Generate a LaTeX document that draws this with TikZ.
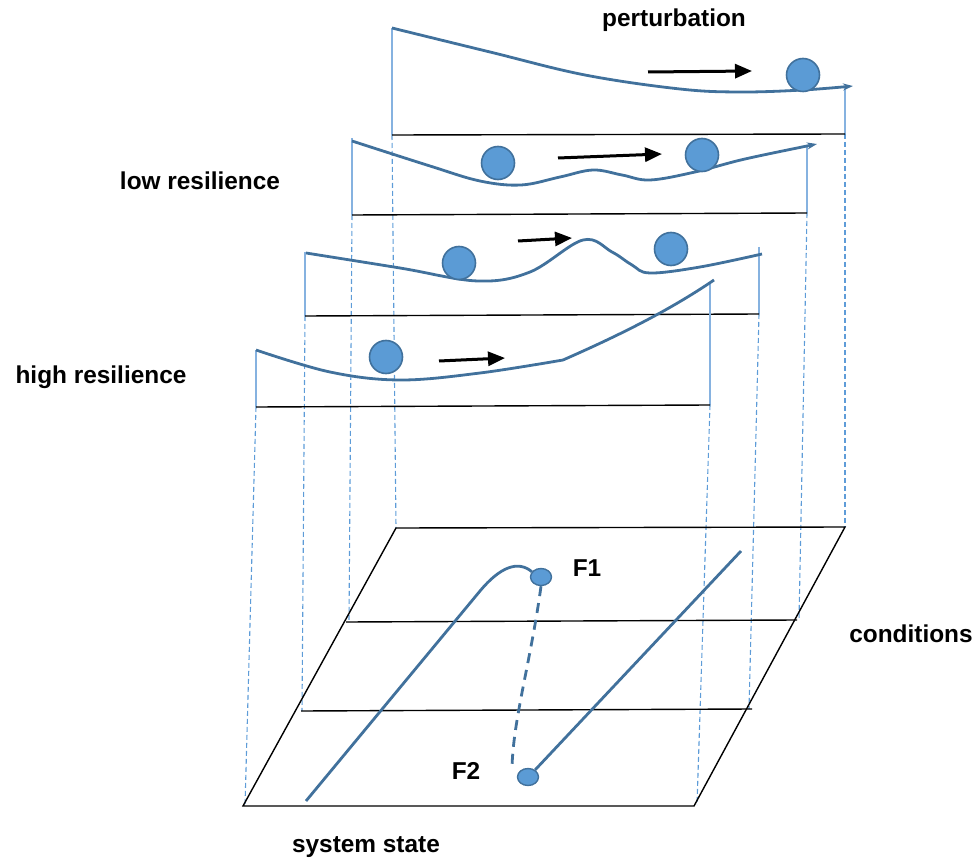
\documentclass[tikz,border=0pt]{standalone}
\usepackage{fontspec}
\setmainfont{Liberation Sans}
\usetikzlibrary{arrows.meta,shapes.geometric}
\definecolor{Ridge}{HTML}{41719C}
\definecolor{Marble}{HTML}{5B9BD5}
\definecolor{Guide}{HTML}{5E9CD8}
\definecolor{Wall}{HTML}{86B2E0}
\tikzset{
  lbl/.style={font=\bfseries\fontsize{12.2}{15}\selectfont,inner sep=0pt},
  marble/.style={circle,draw=Ridge,fill=Marble,line width=.8pt,minimum size=16.5pt,inner sep=0pt},
  fixpt/.style={ellipse,draw=Ridge,fill=Marble,line width=.7pt,minimum width=10.5pt,minimum height=8.5pt,inner sep=0pt},
  ridge/.style={draw=Ridge,line width=1.4pt,line join=round},
  push/.style={-{Triangle[length=8.5pt,width=7pt]},draw=black,line width=1.5pt},
  wall/.style={draw=Wall,line width=.8pt},
  base/.style={draw=black,line width=.7pt},
  drop/.style={draw=Guide,line width=.55pt,dash pattern=on 2.5pt off 1.5pt}
}
\begin{document}
\begin{tikzpicture}[x=.5pt,y=-.5pt]
        \useasboundingbox (0,0) rectangle (980,861);
        % bottom plane
        \coordinate (nw) at (396,528);
        \coordinate (ne) at (845,527);
        \coordinate (se) at (694,806);
        \coordinate (sw) at (243,806);
        \coordinate (w1) at (346,622);
        \coordinate (e1) at (797,620);
        \coordinate (w2) at (301,711);
        \coordinate (e2) at (752,709);
        % landscape panels, top to bottom
        \coordinate (p1t) at (392,28);   \coordinate (p1l) at (392,135);
        \coordinate (p1r) at (845,134);  \coordinate (p1s) at (845,86);
        \coordinate (p2t) at (352,138);  \coordinate (p2l) at (352,215);
        \coordinate (p2r) at (807,213);  \coordinate (p2s) at (807,147);
        \coordinate (p3t) at (305,252);  \coordinate (p3l) at (305,316);
        \coordinate (p3r) at (759,314);  \coordinate (p3s) at (759,247);
        \coordinate (p4t) at (256,350);  \coordinate (p4l) at (256,407);
        \coordinate (p4r) at (710,405);  \coordinate (p4s) at (710,283);

        \draw[drop] (p1l) -- (nw);
        \draw[drop] (p1r) -- (ne);
        \draw[drop] (p2l) -- (349,622);
        \draw[drop] (p2r) -- (799,620);
        \draw[drop] (p3l) -- (302,711);
        \draw[drop] (p3r) -- (749,709);
        \draw[drop] (p4l) -- (245,806);
        \draw[drop] (p4r) -- (697,805);

        \draw[base] (nw) -- (ne) -- (se) -- (sw) -- cycle;
        \draw[base] (w1) -- (e1);
        \draw[base] (w2) -- (e2);

        \draw[wall] (p1t) -- (p1l);  \draw[wall] (p1s) -- (p1r);  \draw[base] (p1l) -- (p1r);
        \draw[wall] (p2t) -- (p2l);  \draw[wall] (p2s) -- (p2r);  \draw[base] (p2l) -- (p2r);
        \draw[wall] (p3t) -- (p3l);  \draw[wall] (p3s) -- (p3r);  \draw[base] (p3l) -- (p3r);
        \draw[wall] (p4t) -- (p4l);  \draw[wall] (p4s) -- (p4r);  \draw[base] (p4l) -- (p4r);

        \draw[ridge,-{Stealth[length=5pt,width=3.5pt]}] plot[smooth,tension=.6] coordinates {(392,28) (490,52) (585,75) (680,89) (740,92) (803,90) (853,86)};
        \draw[ridge,-{Stealth[length=5pt,width=3.5pt]}] plot[smooth,tension=.6] coordinates {(352,141) (430,166) (480,181) (521,185) (560,177) (593,170) (622,175) (650,180) (695,172) (745,159) (817,144)};
        \draw[ridge] plot[smooth,tension=.6] coordinates {(306,253) (400,268) (478,281) (530,272) (583,240) (612,252) (632,265) (650,273) (700,267) (762,254)};
        \draw[ridge] plot[smooth,tension=.6] coordinates {(256,350) (330,372) (400,380) (480,373) (563,360)} .. controls (620,335) and (670,310) .. (714,280);

        \node[marble] (m1) at (803,75) {};
        \node[marble] (m2a) at (498,163) {};
        \node[marble] (m2b) at (702,155) {};
        \node[marble] (m3a) at (459,263) {};
        \node[marble] (m3b) at (671,249) {};
        \node[marble] (m4) at (386,357) {};

        \coordinate (a1s) at (648,72);  \coordinate (a1e) at (752,71);
        \coordinate (a2s) at (558,158); \coordinate (a2e) at (662,154);
        \coordinate (a3s) at (518,241); \coordinate (a3e) at (572,238);
        \coordinate (a4s) at (439,361); \coordinate (a4e) at (505,358);
        \draw[push] (a1s) -- (a1e);
        \draw[push] (a2s) -- (a2e);
        \draw[push] (a3s) -- (a3e);
        \draw[push] (a4s) -- (a4e);

        % fold on the plane
        \node[fixpt] (F1) at (541,577) {};
        \node[fixpt] (F2) at (528,777) {};
        \coordinate (foot) at (306,801);
        \coordinate (tip) at (741,551);
        \draw[ridge] (foot) -- (480,591) .. controls (500,567) and (518,560) .. (F1.150);
        \draw[ridge] (F2.45) -- (tip);
        \draw[ridge,dash pattern=on 5pt off 3.5pt] (F1.270) .. controls (531,660) and (513,720) .. (512,768);

        \node[lbl] (pert) at (674,20) {perturbation};
        \node[lbl] (low) at (200,181) {low resilience};
        \node[lbl] (high) at (101,377) {high resilience};
        \node[lbl] (cond) at (911,634) {conditions};
        \node[lbl] (state) at (366,847) {system state};
        \node[lbl] (f1) at (587,568) {F1};
        \node[lbl] (f2) at (466,771) {F2};
      \end{tikzpicture}
\end{document}
